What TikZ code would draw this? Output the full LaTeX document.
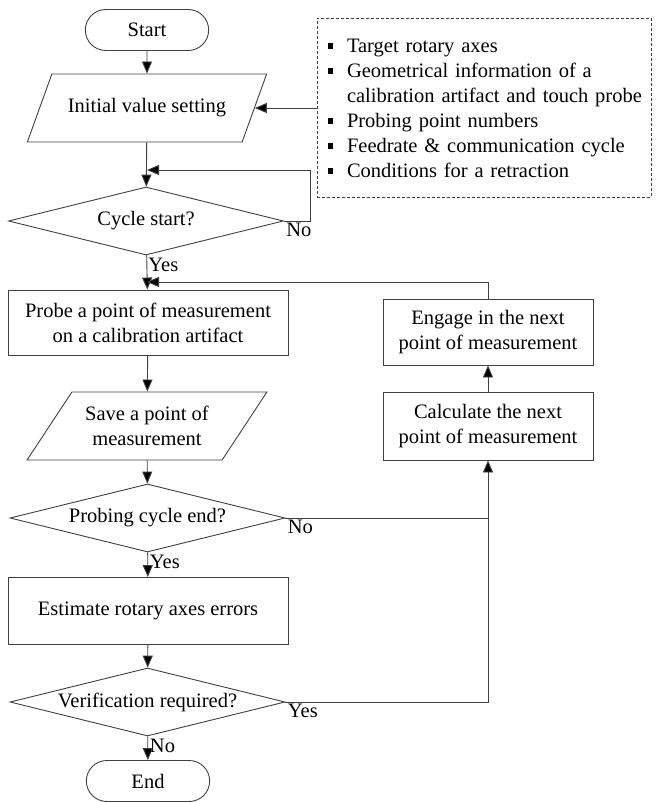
\documentclass[tikz,border=0pt]{standalone}
\usepackage{fontspec}
\setmainfont{Liberation Serif}
\usepackage{tikz}
\usetikzlibrary{shapes.geometric, shapes.misc, arrows.meta, calc}
\newcommand{\bul}{\makebox[30pt][l]{\hspace{11pt}\rule[3pt]{5pt}{6pt}}}
\newcommand{\nobul}{\hspace*{30pt}}

\begin{document}
\begin{tikzpicture}[x=1pt, y=-1pt, font=\fontsize{20.5}{25}\selectfont, line width=0.9pt,
    term/.style={draw=black!75, rounded rectangle, minimum width=130pt, minimum height=41pt},
    io/.style={draw=black!75, trapezium, trapezium left angle=50, trapezium right angle=130,
               trapezium stretches=true, minimum width=240pt, minimum height=68pt, align=center},
    proc/.style={draw=black!75, rectangle, align=center, inner sep=0pt},
    dec/.style={draw=black!75, diamond, aspect=4, inner sep=0pt, minimum width=275pt, minimum height=68pt},
    lbl/.style={anchor=north west, inner sep=2pt},
    link/.style={draw=black!75},
    arr/.style={link, -{Triangle[length=12pt,width=10pt,fill=black]}}]
                    \useasboundingbox (0,0) rectangle (655,802);

                    \node [term] (start) at (147, 30) {Start};
                    \node [io]   (init)  at (147,108) {Initial value setting};
                    \node [draw=black!75, dash pattern=on 3pt off 2pt, line width=0.8pt, text width=334pt,
                           inner xsep=0pt, minimum height=179pt, align=left]
                           (note) at (484,108) {\bul Target rotary axes\\
                                                \bul Geometrical information of a\\
                                                \nobul calibration artifact and touch probe\\
                                                \bul Probing point numbers\\
                                                \bul Feedrate \& communication cycle\\
                                                \bul Conditions for a retraction};
                    \node [dec]  (cyc)   at (146,221) {Cycle start?};
                    \node [proc, minimum width=280pt, minimum height=65pt]
                                 (probe) at (148,322.5) {Probe a point of measurement\\on a calibration artifact};
                    \node [io]   (save)  at (147,426) {Save a point of\\measurement};
                    \node [dec]  (prob)  at (147.5,518) {Probing cycle end?};
                    \node [proc, minimum width=280pt, minimum height=67pt]
                                 (est)   at (148,611) {Estimate rotary axes errors};
                    \node [dec]  (ver)   at (147.5,702) {Verification required?};
                    \node [term] (end)   at (148,781) {End};
                    \node [proc, minimum width=210pt, minimum height=66pt]
                                 (eng)   at (488,332) {Engage in the next\\point of measurement};
                    \node [proc, minimum width=210pt, minimum height=68pt]
                                 (calc)  at (488,426) {Calculate the next\\point of measurement};

                    \coordinate (cj) at (147,170);
                    \coordinate (rj) at (147,282);

                    \draw [arr]  (start) -- (init);
                    \draw [arr]  (note.west) -- (init.east);
                    \draw [arr]  (init) -- (cyc);
                    \draw [arr]  (cyc.east) -- ++(26,0) |- (cj);
                    \draw [arr]  (cyc) -- (probe);
                    \draw [arr]  (eng.north) |- (rj);
                    \draw [arr]  (probe) -- (save);
                    \draw [arr]  (save) -- (prob);
                    \draw [arr]  (prob) -- (est);
                    \draw [arr]  (est) -- (ver);
                    \draw [arr]  (ver) -- (end);
                    \draw [link] (prob.east) -- (prob.east -| calc.south);
                    \draw [arr]  (ver.east) -| (calc.south);
                    \draw [arr]  (calc) -- (eng);

                    \node [lbl] (cno)  at (cyc.east)   {No};
                    \node [lbl] (cyes) at (cyc.south)  {Yes};
                    \node [lbl] (pno)  at (prob.east)  {No};
                    \node [lbl] (pyes) at (prob.south) {Yes};
                    \node [lbl] (vyes) at (ver.east)   {Yes};
                    \node [lbl] (vno)  at (ver.south)  {No};
                \end{tikzpicture}
\end{document}
